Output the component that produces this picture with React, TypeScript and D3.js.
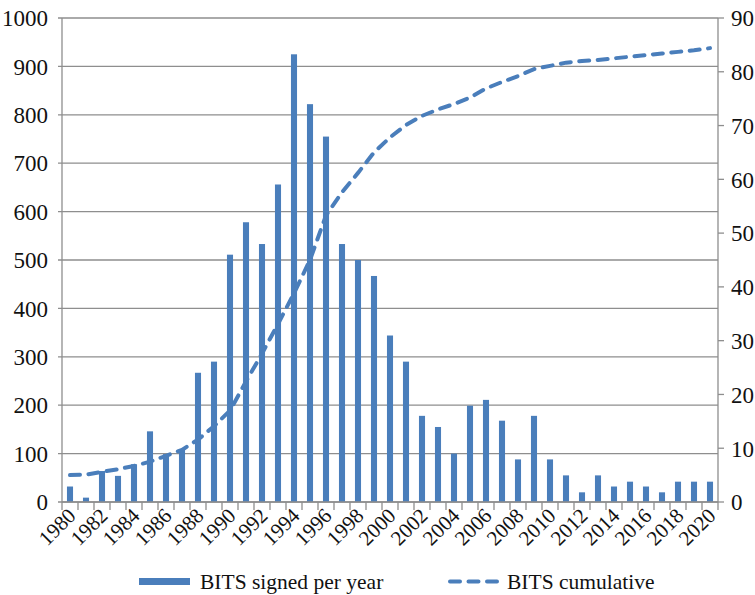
import * as d3 from "d3";

const years = [
  "1980", "1981", "1982", "1983", "1984", "1985", "1986", "1987", "1988", "1989",
  "1990", "1991", "1992", "1993", "1994", "1995", "1996", "1997", "1998", "1999",
  "2000", "2001", "2002", "2003", "2004", "2005", "2006", "2007", "2008", "2009",
  "2010", "2011", "2012", "2013", "2014", "2015", "2016", "2017", "2018", "2019", "2020",
];
const signedPerYear = [
  32, 9, 64, 54, 78, 146, 99, 109, 267, 290,
  511, 578, 533, 656, 925, 822, 755, 533, 500, 467,
  344, 290, 178, 155, 100, 199, 211, 168, 88, 178,
  88, 55, 20, 55, 32, 42, 32, 20, 42, 42, 42,
];
const cumulative = [
  5.0, 5.1, 5.6, 6.1, 6.7, 7.5, 8.6, 9.7, 11.6, 14.1,
  17.0, 22.4, 27.6, 33.1, 38.8, 45.0, 53.3, 57.6, 61.2, 65.0,
  67.8, 70.1, 71.8, 73.0, 74.0, 75.2, 76.9, 78.1, 79.2, 80.5,
  81.1, 81.7, 82.0, 82.2, 82.5, 82.8, 83.1, 83.4, 83.7, 84.0, 84.4,
];
const leftTicks = [0, 100, 200, 300, 400, 500, 600, 700, 800, 900, 1000];
const rightTicks = [0, 10, 20, 30, 40, 50, 60, 70, 80, 90];
const seriesNames = ["BITS signed per year", "BITS cumulative"];

const W = 755;
const H = 595;
const blue = "#4a7ebb";
const grid = "#8e8e8e";
const serif = "Liberation Serif, Times New Roman, Times, DejaVu Serif, serif";

export default function App() {
  const left = 62, right = 718, top = 18, bottom = 502;

  const x = d3.scaleBand<string>().domain(years).range([left, right]);
  const bw = x.bandwidth();
  const yL = d3.scaleLinear().domain([0, 1000]).range([bottom, top]);
  const yR = d3.scaleLinear().domain([0, 90]).range([bottom, top]);

  const line = d3
    .line<number>()
    .x((d, i) => (x(years[i]) as number) + bw / 2)
    .y((d) => yR(d));

  const barW = bw * 0.38;
  const boundaries = years.map((yr) => x(yr) as number).concat([right]);

  return (
    <div style={{ position: "absolute", left: 0, top: 0 }}>
      <svg width={W} height={H} style={{ display: "block", background: "#fff" }}>
        {/* gridlines */}
        {leftTicks.map((t) => (
          <line key={"g" + t} x1={left - 4} x2={right} y1={yL(t)} y2={yL(t)} stroke={grid} strokeWidth={1.3} />
        ))}

        {/* bars */}
        {signedPerYear.map((v, i) => (
          <rect
            key={years[i]}
            x={(x(years[i]) as number) + (bw - barW) / 2}
            y={yL(v)}
            width={barW}
            height={bottom - yL(v)}
            fill={blue}
          />
        ))}

        {/* cumulative line */}
        <path
          d={line(cumulative) || ""}
          fill="none"
          stroke={blue}
          strokeWidth={4}
          strokeDasharray="10,8.5"
          strokeLinecap="round"
        />

        {/* axes */}
        <line x1={left} x2={left} y1={top} y2={bottom} stroke={grid} strokeWidth={1.3} />
        <line x1={right} x2={right} y1={top} y2={bottom} stroke={grid} strokeWidth={1.3} />
        <line x1={left} x2={right} y1={bottom} y2={bottom} stroke={grid} strokeWidth={1.3} />
        {rightTicks.map((t) => (
          <line key={"rt" + t} x1={right} x2={right + 6} y1={yR(t)} y2={yR(t)} stroke={grid} strokeWidth={1.3} />
        ))}
        {boundaries.map((bx, i) => (
          <line key={"xt" + i} x1={bx} x2={bx} y1={bottom} y2={bottom + 8} stroke={grid} strokeWidth={1.3} />
        ))}

        <g fontFamily={serif} fill="#111">
          {/* left labels */}
          {leftTicks.map((t) => (
            <text key={"l" + t} x={48} y={yL(t)} dy="0.36em" textAnchor="end" fontSize={23}>
              {t}
            </text>
          ))}
          {/* right labels */}
          {rightTicks.map((t) => (
            <text key={"r" + t} x={731} y={yR(t)} dy="0.36em" textAnchor="start" fontSize={23}>
              {t}
            </text>
          ))}
          {/* x labels */}
          {years.map((yr, i) =>
            i % 2 === 0 ? (
              <text
                key={"x" + yr}
                transform={`translate(${(x(yr) as number) + bw / 2 + 7},${bottom + 15}) rotate(-45)`}
                textAnchor="end"
                fontSize={21}
              >
                {yr}
              </text>
            ) : null
          )}

          {/* legend */}
          <rect x={139} y={578} width={51} height={7} fill={blue} />
          <text x={200} y={589} fontSize={21.5}>
            {seriesNames[0]}
          </text>
          <line
            x1={450}
            x2={498}
            y1={581.5}
            y2={581.5}
            stroke={blue}
            strokeWidth={4}
            strokeDasharray="10,8.5"
            strokeLinecap="round"
          />
          <text x={507} y={589} fontSize={21.5}>
            {seriesNames[1]}
          </text>
        </g>
      </svg>
    </div>
  );
}
